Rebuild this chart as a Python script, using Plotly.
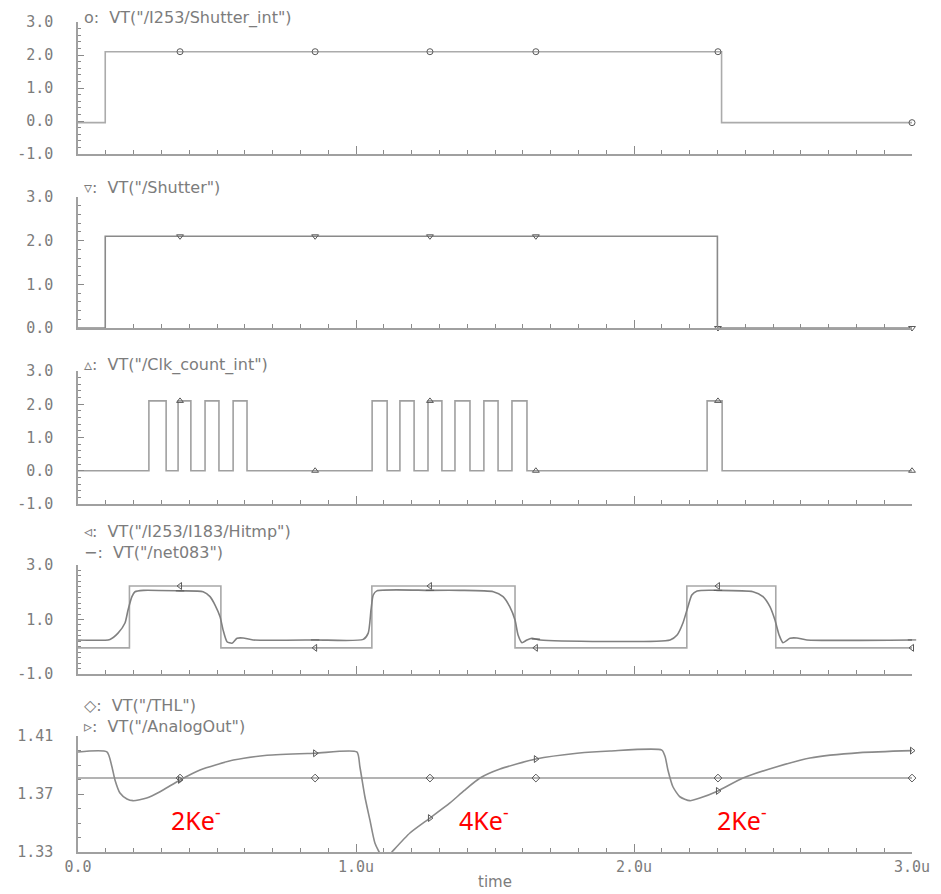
import numpy as np
import plotly.graph_objects as go

# ---------------- data (time in microseconds, values in volts) ----------------
MARKER_T = [0.367, 0.853, 1.266, 1.647, 2.302, 3.0]

# panel 1: /I253/Shutter_int
SHUT_INT_RISE = [0.098]
SHUT_INT_FALL = [2.315]
SHUT_INT_LOW, SHUT_INT_HIGH = -0.05, 2.1

# panel 2: /Shutter
SHUT_RISE = [0.098]
SHUT_FALL = [2.300]
SHUT_LOW, SHUT_HIGH = 0.0, 2.1

# panel 3: /Clk_count_int
CLK_RISE = [0.255, 0.360, 0.457, 0.558, 1.058, 1.158, 1.259, 1.356, 1.460, 1.561, 2.263]
CLK_FALL = [0.317, 0.406, 0.507, 0.608, 1.112, 1.209, 1.309, 1.410, 1.511, 1.615, 2.317]
CLK_LOW, CLK_HIGH = 0.0, 2.1

# panel 4: /I253/I183/Hitmp (digital) and /net083 (analog)
HIT_RISE = [0.185, 1.057, 2.190]
HIT_FALL = [0.514, 1.572, 2.510]
HIT_LOW, HIT_HIGH = -0.04, 2.23

NET_T = [0, 0.115, 0.144, 0.169, 0.18, 0.194, 0.205, 0.235, 0.367, 0.45, 0.475, 0.493, 0.511,
         0.522, 0.536, 0.554, 0.572, 0.594, 0.63, 0.853, 1.026, 1.044, 1.054, 1.062, 1.075,
         1.266, 1.374, 1.494, 1.529, 1.553, 1.572, 1.583, 1.597, 1.615, 1.633, 1.662, 2.13,
         2.155, 2.176, 2.194, 2.208, 2.227, 2.302, 2.428, 2.464, 2.489, 2.507, 2.522, 2.536,
         2.561, 2.586, 2.622, 3.0]
NET_V = [0.25, 0.27, 0.50, 0.87, 1.35, 1.84, 2.02, 2.07, 2.05, 2.02, 1.84, 1.53, 1.10,
         0.61, 0.185, 0.13, 0.31, 0.32, 0.25, 0.25, 0.27, 0.50, 1.35, 1.90, 2.05,
         2.07, 2.07, 2.02, 1.84, 1.47, 0.98, 0.43, 0.15, 0.25, 0.31, 0.25, 0.25,
         0.43, 0.87, 1.47, 1.90, 2.05, 2.07, 2.02, 1.84, 1.47, 0.98, 0.43, 0.15,
         0.31, 0.32, 0.25, 0.25]

# panel 5: /THL and /AnalogOut
THL_V = 1.381
AOUT_T = [0, 0.104, 0.122, 0.133, 0.151, 0.176, 0.198, 0.247, 0.295, 0.367, 0.439, 0.559,
          0.68, 0.853, 1.003, 1.014, 1.032, 1.05, 1.068, 1.09, 1.11, 1.129, 1.194, 1.266,
          1.338, 1.39, 1.446, 1.518, 1.647, 1.795, 1.914, 2.10, 2.112, 2.122, 2.14, 2.165,
          2.201, 2.237, 2.302, 2.392, 2.514, 2.633, 2.813, 3.0]
AOUT_V = [1.399, 1.399, 1.3888, 1.3797, 1.3707, 1.3666, 1.3654, 1.3672, 1.3716, 1.3797,
          1.3866, 1.3934, 1.3967, 1.3981, 1.399, 1.3888, 1.3681, 1.3521, 1.3362, 1.328,
          1.326, 1.330, 1.3431, 1.3534, 1.3638, 1.3725, 1.381, 1.3872, 1.3941, 1.3981,
          1.3997, 1.4003, 1.3957, 1.3866, 1.375, 1.3681, 1.3654, 1.3672, 1.3721, 1.381,
          1.3888, 1.3948, 1.3985, 1.3999]

CHARGE_LABELS = ["2Ke<sup>-</sup>", "4Ke<sup>-</sup>", "2Ke<sup>-</sup>"]
CHARGE_T = [0.424, 1.46, 2.39]
CHARGE_V = [1.353, 1.353, 1.353]

X_TICKS = [0, 1, 2, 3]
X_TICKTEXT = ["0.0", "1.0u", "2.0u", "3.0u"]


# ---------------- helpers ----------------
def pulses(rises, falls, low, high):
    t, v = [0.0], [low]
    for r, f in zip(rises, falls):
        t += [r, f]
        v += [high, low]
    t.append(3.0)
    v.append(low)
    return t, v


def level_at(rises, falls, low, high, tq):
    out = []
    for x in tq:
        lv = low
        for r, f in zip(rises, falls):
            if r <= x < f:
                lv = high
        out.append(lv)
    return out


MARK_C = "#5a5a5a"
TXT_C = "#7c7c7c"
# the page body has an 8px margin, so the figure is sized to fill the remaining window
OFF = 8
W, H = 941 - OFF, 894 - OFF
L_M, R_M = 78 - OFF, 29

fig = go.Figure()


def add_step(n, rises, falls, low, high, symbol, color):
    t, v = pulses(rises, falls, low, high)
    ax = "" if n == 1 else str(n)
    fig.add_trace(go.Scatter(x=t, y=v, mode="lines", line=dict(color=color, width=1.6, shape="hv"),
                             xaxis="x" + ax, yaxis="y" + ax, showlegend=False, hoverinfo="skip"))
    fig.add_trace(go.Scatter(x=MARKER_T, y=level_at(rises, falls, low, high, MARKER_T), mode="markers",
                             marker=dict(symbol=symbol, size=6, color=MARK_C, line=dict(width=1, color=MARK_C)),
                             xaxis="x" + ax, yaxis="y" + ax, showlegend=False, cliponaxis=False))


def add_curve(n, t, v, symbol, color, shape="spline"):
    ax = "" if n == 1 else str(n)
    fig.add_trace(go.Scatter(x=t, y=v, mode="lines",
                             line=dict(color=color, width=1.6, shape=shape, smoothing=0.6),
                             xaxis="x" + ax, yaxis="y" + ax, showlegend=False, hoverinfo="skip"))
    fig.add_trace(go.Scatter(x=MARKER_T, y=list(np.interp(MARKER_T, t, v)), mode="markers",
                             marker=dict(symbol=symbol, size=6, color=MARK_C, line=dict(width=1, color=MARK_C)),
                             xaxis="x" + ax, yaxis="y" + ax, showlegend=False, cliponaxis=False))


add_step(1, SHUT_INT_RISE, SHUT_INT_FALL, SHUT_INT_LOW, SHUT_INT_HIGH, "circle-open", "#ababab")
add_step(2, SHUT_RISE, SHUT_FALL, SHUT_LOW, SHUT_HIGH, "triangle-down-open", "#8a8a8a")
add_step(3, CLK_RISE, CLK_FALL, CLK_LOW, CLK_HIGH, "triangle-up-open", "#a0a0a0")
add_step(4, HIT_RISE, HIT_FALL, HIT_LOW, HIT_HIGH, "triangle-left-open", "#a8a8a8")
add_curve(4, NET_T, NET_V, "line-ew-open", "#808080")
add_curve(5, [0, 3.0], [THL_V, THL_V], "diamond-open", "#9a9a9a", shape="linear")
add_curve(5, AOUT_T, AOUT_V, "triangle-right-open", "#8a8a8a")

# ---------------- layout ----------------
# window-pixel extents (top, bottom) of each panel's y axis
PANELS = [(22, 154), (197, 328), (371, 504), (565, 674), (736, 852)]
Y_RANGES = [[-1, 3], [0, 3], [-1, 3], [-1, 3], [1.33, 1.41]]
Y_TICKS = [[-1, 0, 1, 2, 3], [0, 1, 2, 3], [-1, 0, 1, 2, 3], [-1, 1, 3], [1.33, 1.37, 1.41]]


def py2paper(py):
    return 1 - (py - OFF) / H


tick_font = dict(family="DejaVu Sans Mono", size=15, color=TXT_C)
layout = dict(width=W, height=H, margin=dict(l=L_M, r=R_M, t=0, b=0, autoexpand=False),
              paper_bgcolor="white", plot_bgcolor="white", showlegend=False)

for i, ((top, bot), yr, yt) in enumerate(zip(PANELS, Y_RANGES, Y_TICKS)):
    n = i + 1
    sfx = "" if n == 1 else str(n)
    dom = [py2paper(bot), py2paper(top)]
    is_last = n == 5
    layout["xaxis" + sfx] = dict(
        domain=[0, 1], anchor="y" + sfx, range=[0, 3], showgrid=False, zeroline=False,
        showline=True, linecolor="#a0a0a0", linewidth=1.5, automargin=False,
        ticks="inside", ticklen=8, tickcolor="#8a8a8a", tickwidth=1,
        tickvals=X_TICKS, ticktext=X_TICKTEXT, showticklabels=is_last, tickfont=tick_font,
        minor=dict(dtick=0.1, tick0=0, ticks="inside", ticklen=4, tickcolor="#8a8a8a", tickwidth=1),
        fixedrange=True,
    )
    if is_last:
        layout["xaxis" + sfx]["title"] = dict(text="time", font=dict(family="DejaVu Sans", size=15, color=TXT_C),
                                             standoff=2)
    if n == 5:
        ttext = [f"{v:.2f}" for v in yt]
        minor_dt = 0.01
    else:
        ttext = [f"{v:.1f}" for v in yt]
        minor_dt = 0.2
    layout["yaxis" + sfx] = dict(
        domain=dom, anchor="x" + sfx, range=yr, showgrid=False, zeroline=False,
        showline=True, linecolor="#a0a0a0", linewidth=1.5, automargin=False,
        ticks="inside", ticklen=6, tickcolor="#8a8a8a", tickwidth=1,
        tickvals=yt, ticktext=ttext, tickfont=tick_font, ticklabelstandoff=20,
        minor=dict(dtick=minor_dt, tick0=yr[0], ticks="inside", ticklen=3, tickcolor="#8a8a8a", tickwidth=1),
        fixedrange=True,
    )

fig.update_layout(**layout)

# panel titles (signal names); two-signal panels use a single two-line label
SP = "\u00a0"
TITLES = [
    (18, "o:" + SP + ' VT("/I253/Shutter_int")'),
    (188, "\u25bf:" + SP + ' VT("/Shutter")'),
    (365, "\u25b5:" + SP + ' VT("/Clk_count_int")'),
    (542, "\u25c3:" + SP + ' VT("/I253/I183/Hitmp")<br>\u2212:' + SP + ' VT("/net083")'),
    (716, "\u25c7:" + SP + ' VT("/THL")<br>\u25b9:' + SP + ' VT("/AnalogOut")'),
]
for py, txt in TITLES:
    fig.add_annotation(x=(82 - 78) / (W - L_M - R_M), y=py2paper(py), xref="paper", yref="paper",
                       text=txt, showarrow=False, xanchor="left", yanchor="middle", align="left",
                       font=dict(family="DejaVu Sans", size=16, color=TXT_C))

for lab, t, v in zip(CHARGE_LABELS, CHARGE_T, CHARGE_V):
    fig.add_annotation(x=t, y=v, xref="x5", yref="y5", text=lab, showarrow=False,
                       font=dict(family="Noto Sans", size=25, color="#ff0000"),
                       bgcolor="white")

fig.write_html("out.html")
